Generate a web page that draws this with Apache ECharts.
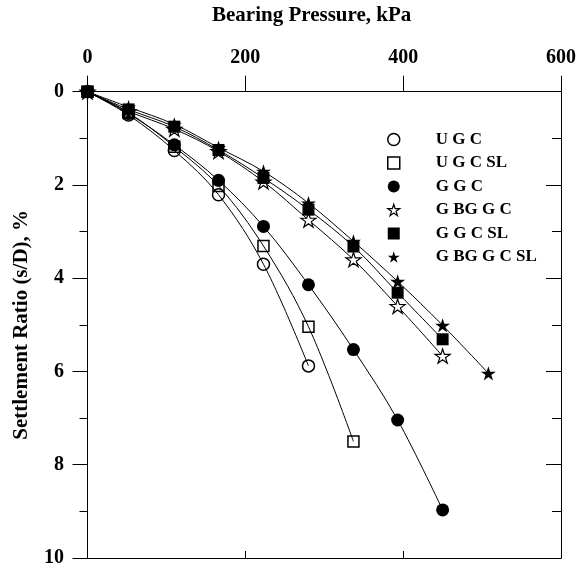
<!DOCTYPE html>
<html>
<head>
<meta charset="utf-8">
<script src="https://cdn.jsdelivr.net/npm/echarts@6/dist/echarts.min.js"></script>
<style>
  html, body { margin: 0; padding: 0; background: #fff; }
  #chart { width: 580px; height: 568px; }
</style>
</head>
<body>
<div id="chart"></div>
<script>
// bearing pressure steps, kPa
const loads = [0, 52, 110, 166, 223, 280, 337, 393, 450, 508];

// settlement ratio s/D, %
const ugc = [0, 0.50, 1.26, 2.21, 3.70, 5.88];
const ugcSl = [0, 0.45, 1.18, 2.02, 3.31, 5.04, 7.50];
const ggc = [0, 0.47, 1.14, 1.90, 2.89, 4.14, 5.53, 7.04, 8.97];
const gbggc = [0, 0.42, 0.80, 1.28, 1.93, 2.75, 3.60, 4.60, 5.67];
const ggcSl = [0, 0.38, 0.75, 1.25, 1.85, 2.53, 3.32, 4.31, 5.31];
const gbggcSl = [0, 0.33, 0.70, 1.20, 1.71, 2.39, 3.21, 4.07, 5.01, 6.04];

const names = ['U G C', 'U G C SL', 'G G C', 'G BG G C', 'G G C SL', 'G BG G C SL'];
const xTicks = [0, 200, 400, 600];

const STAR = 'path://M0,-10L2.245,-3.09L9.511,-3.09L3.633,1.18L5.878,8.09L0,3.82L-5.878,8.09L-3.633,1.18L-9.511,-3.09L-2.245,-3.09Z';
const FONT = 'Liberation Serif';

const open = { color: 'transparent', borderColor: '#000', borderWidth: 1.5 };
const openStar = { color: '#fff', borderColor: '#000', borderWidth: 1.2 };
const filled = { color: '#000', borderColor: '#000', borderWidth: 0 };

const styles = [
  { symbol: 'circle', size: 12, item: open },
  { symbol: 'rect', size: 11, item: open },
  { symbol: 'circle', size: 13, item: filled },
  { symbol: STAR, size: 15, item: openStar },
  { symbol: 'rect', size: 12, item: filled },
  { symbol: STAR, size: 15, item: filled },
];
const values = [ugc, ugcSl, ggc, gbggc, ggcSl, gbggcSl];

const chart = echarts.init(document.getElementById('chart'));

const axisText = { fontFamily: FONT, fontWeight: 'bold', fontSize: 20, color: '#000' };

chart.setOption({
  animation: false,
  backgroundColor: '#fff',
  title: {
    text: 'Bearing Pressure, kPa',
    left: 212,
    top: 5,
    padding: 0,
    textStyle: { fontFamily: FONT, fontWeight: 'bold', fontSize: 21, color: '#000' },
  },
  grid: { left: 87.5, right: 19, top: 91.7, bottom: 9 },
  legend: {
    orient: 'vertical',
    left: 382,
    top: 126,
    itemWidth: 12,
    itemHeight: 12,
    itemGap: 6.5,
    selectedMode: false,
    textStyle: { fontFamily: FONT, fontWeight: 'bold', fontSize: 17, color: '#000', padding: [0, 0, 0, 31] },
    data: names.map((n, i) => ({
      name: n,
      icon: styles[i].symbol,
      itemStyle: styles[i].item,
    })),
  },
  xAxis: [
    {
      type: 'value', position: 'top', min: 0, max: 600, interval: 200,
      axisLine: { onZero: false, lineStyle: { color: '#000', width: 1 } },
      axisTick: { inside: false, length: 16, lineStyle: { color: '#000' } },
      axisLabel: { ...axisText, margin: 24, customValues: xTicks },
      splitLine: { show: false },
    },
    {
      type: 'value', position: 'bottom', min: 0, max: 600, interval: 200,
      axisLine: { onZero: false, lineStyle: { color: '#000', width: 1 } },
      axisTick: { inside: true, length: 7, lineStyle: { color: '#000' } },
      axisLabel: { show: false },
      splitLine: { show: false },
    },
  ],
  yAxis: [
    {
      type: 'value', position: 'left', inverse: true, min: 0, max: 10, interval: 2,
      name: 'Settlement Ratio (s/D), %',
      nameLocation: 'middle',
      nameGap: 55,
      nameTextStyle: { fontFamily: FONT, fontWeight: 'bold', fontSize: 21, color: '#000' },
      axisLine: { onZero: false, lineStyle: { color: '#000', width: 1 } },
      axisTick: { inside: false, length: 15, lineStyle: { color: '#000' } },
      minorTick: { show: true, splitNumber: 2, length: 8, lineStyle: { color: '#000' } },
      axisLabel: { ...axisText, margin: 23.5 },
      splitLine: { show: false },
    },
    {
      type: 'value', position: 'right', inverse: true, min: 0, max: 10, interval: 2,
      axisLine: { onZero: false, lineStyle: { color: '#000', width: 1 } },
      axisTick: { inside: true, length: 15, lineStyle: { color: '#000' } },
      minorTick: { show: true, splitNumber: 2, length: 9, lineStyle: { color: '#000' } },
      axisLabel: { show: false },
      splitLine: { show: false },
    },
  ],
  series: values.map((v, i) => ({
    name: names[i],
    type: 'line',
    xAxisIndex: 0,
    yAxisIndex: 0,
    smooth: 0.35,
    symbol: styles[i].symbol,
    symbolSize: styles[i].size,
    symbolKeepAspect: true,
    showAllSymbol: true,
    lineStyle: { color: '#000', width: 1 },
    itemStyle: styles[i].item,
    emphasis: { disabled: true },
    data: v.map((y, j) => [loads[j], y]),
  })),
});
</script>
</body>
</html>
